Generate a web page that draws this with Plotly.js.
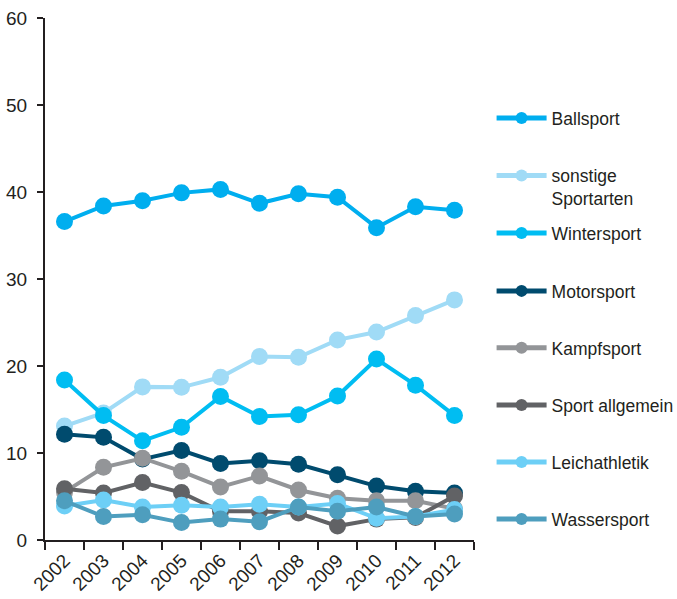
<!DOCTYPE html>
<html>
<head>
<meta charset="utf-8">
<script src="https://cdn.plot.ly/plotly-3.0.1.min.js"></script>
<style>html,body{margin:0;padding:0;background:#fff}#chart{width:677px;height:599px}</style>
</head>
<body>
<div id="chart"></div>
<script>
const years = ["2002","2003","2004","2005","2006","2007","2008","2009","2010","2011","2012"];
const ballsport       = [36.6, 38.4, 39.0, 39.9, 40.3, 38.7, 39.8, 39.4, 35.9, 38.3, 37.9];
const sonstige        = [13.1, 14.6, 17.6, 17.55, 18.7, 21.1, 21.0, 23.0, 23.9, 25.8, 27.6];
const wintersport     = [18.4, 14.3, 11.4, 12.95, 16.5, 14.2, 14.4, 16.55, 20.8, 17.8, 14.3];
const motorsport      = [12.15, 11.8, 9.3, 10.3, 8.8, 9.1, 8.7, 7.5, 6.2, 5.6, 5.4];
const kampfsport      = [5.5, 8.35, 9.4, 7.9, 6.1, 7.35, 5.75, 4.8, 4.5, 4.5, 3.6];
const sportAllgemein  = [5.9, 5.4, 6.6, 5.45, 3.3, 3.3, 3.1, 1.6, 2.4, 2.6, 5.05];
const leichathletik   = [3.9, 4.6, 3.8, 4.0, 3.8, 4.1, 3.8, 4.2, 2.5, 2.7, 3.5];
const wassersport     = [4.5, 2.7, 2.9, 2.0, 2.4, 2.1, 3.8, 3.3, 3.8, 2.7, 3.0];
const names = ["Ballsport","sonstige<br>Sportarten","Wintersport","Motorsport","Kampfsport","Sport allgemein","Leichathletik","Wassersport"];
const series = [ballsport, sonstige, wintersport, motorsport, kampfsport, sportAllgemein, leichathletik, wassersport];
const colors = ["#00AEEF","#A0DBF6","#00BDF2","#004B6E","#939598","#616265","#6DCFF6","#4E9EBE"];
const legendY = [0.8084, 0.676, 0.588, 0.477, 0.368, 0.2586, 0.1494, 0.0402];

const traces = series.map((s, i) => ({
  type: "scatter", mode: "lines+markers",
  x: years, y: s, name: names[i],
  line: {color: colors[i], width: 4},
  marker: {color: colors[i], size: 17},
  legend: i === 0 ? "legend" : "legend" + (i + 1)
}));

const fontFam = "Liberation Sans, Arial, sans-serif";
const layout = {
  width: 677, height: 599,
  margin: {l: 45, r: 203, t: 18, b: 59, autoexpand: false},
  paper_bgcolor: "#fff", plot_bgcolor: "#fff",
  font: {family: fontFam, size: 18, color: "#231F20"},
  showlegend: true,
  xaxis: {
    type: "category", range: [-0.5, 10.5],
    showgrid: false, zeroline: false,
    showline: true, linecolor: "#231F20", linewidth: 2,
    ticks: "outside", tickson: "boundaries", ticklen: 8, tickwidth: 1.5, tickcolor: "#231F20",
    tickangle: -45, tickfont: {size: 19, color: "#231F20"}
  },
  yaxis: {
    range: [0, 60], tickvals: [0,10,20,30,40,50,60],
    showgrid: false, zeroline: false,
    showline: true, linecolor: "#231F20", linewidth: 2,
    ticks: "outside", ticklen: 6, tickwidth: 1.5, tickcolor: "#231F20",
    ticklabelstandoff: 6,
    tickfont: {size: 19, color: "#231F20"}
  }
};
legendY.forEach((y, i) => {
  const key = i === 0 ? "legend" : "legend" + (i + 1);
  layout[key] = {
    x: 1.041, xanchor: "left", y: y, yanchor: "middle",
    valign: "top", itemwidth: 50, itemsizing: "constant",
    bgcolor: "rgba(0,0,0,0)", borderwidth: 0,
    font: {family: fontFam, size: 17.5, color: "#231F20"}
  };
});

Plotly.newPlot("chart", traces, layout, {displayModeBar: false, staticPlot: true});
</script>
</body>
</html>
